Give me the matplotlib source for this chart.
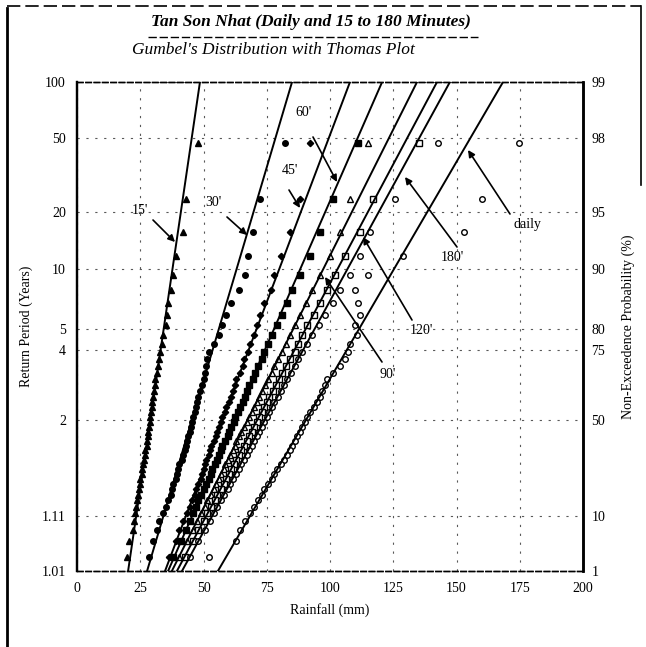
import numpy as np
import matplotlib
matplotlib.use("Agg")
import matplotlib.pyplot as plt
from matplotlib.lines import Line2D
from matplotlib.ticker import NullLocator, FixedLocator

plt.rcParams['font.family'] = ['Liberation Serif', 'DejaVu Serif']

# annual maximum rainfall (mm), sorted high to low
r15 = [47.8, 43.0, 42.0, 39.0, 38.0, 37.0, 36.0, 35.5, 35.0, 34.0, 33.5, 33.0, 32.5, 32.0, 31.5, 31.0,
       30.8, 30.5, 30.0, 29.8, 29.5, 29.2, 29.0, 28.7, 28.5, 28.2, 28.0, 27.8, 27.5, 27.0, 26.8, 26.5,
       26.0, 25.8, 25.5, 25.0, 24.8, 24.5, 24.0, 23.8, 23.5, 23.0, 22.5, 22.0, 20.5, 19.8]
r30 = [82.2, 72.3, 69.6, 67.6, 66.4, 64.0, 61.0, 59.0, 57.5, 56.0, 54.0, 52.0, 51.5, 51.0, 50.5, 50.0,
       49.5, 48.5, 48.0, 47.5, 47.0, 46.5, 46.0, 45.5, 45.0, 44.5, 44.0, 43.5, 43.0, 42.5, 42.0, 41.5,
       40.5, 40.0, 39.5, 39.0, 38.0, 37.5, 37.0, 36.0, 35.0, 34.0, 32.5, 31.5, 30.0, 28.5]
r45 = [92.0, 88.0, 84.0, 80.5, 78.0, 76.5, 74.0, 72.5, 71.0, 70.0, 68.5, 67.5, 66.0, 65.5, 64.5, 63.0,
       62.5, 61.5, 61.0, 60.0, 59.0, 58.5, 57.5, 57.0, 56.0, 55.5, 55.0, 54.0, 53.0, 52.5, 52.0, 51.0,
       50.5, 50.0, 49.5, 49.0, 48.0, 47.0, 46.5, 45.5, 44.5, 43.5, 42.0, 40.5, 39.0, 36.5]
r60 = [111.0, 101.0, 96.0, 92.0, 88.0, 85.0, 83.0, 81.0, 79.0, 77.0, 75.5, 74.0, 73.0, 71.5, 70.5, 69.5,
       68.0, 67.0, 66.5, 65.5, 64.5, 63.5, 62.5, 62.0, 61.0, 60.0, 59.5, 58.5, 57.5, 57.0, 56.0, 55.5,
       54.5, 53.5, 53.0, 52.0, 51.0, 50.0, 49.0, 48.0, 47.0, 46.0, 44.5, 43.0, 41.0, 38.0]
r90 = [115.0, 108.0, 104.0, 100.0, 96.0, 93.0, 90.5, 88.0, 86.0, 84.0, 82.5, 81.0, 79.5, 78.0, 77.0, 75.5,
       74.5, 73.0, 72.0, 71.0, 70.0, 69.0, 68.0, 67.0, 66.0, 65.0, 64.0, 63.0, 62.5, 61.5, 60.5, 59.5,
       58.5, 58.0, 57.0, 56.0, 55.0, 54.0, 53.0, 51.5, 50.5, 49.0, 47.5, 46.0, 43.5, 40.5]
r120 = [135.0, 117.0, 112.0, 106.0, 102.0, 99.0, 96.0, 93.5, 91.0, 89.0, 87.5, 86.0, 84.0, 82.5, 81.0, 80.0,
        78.5, 77.5, 76.0, 75.0, 74.0, 73.0, 72.0, 71.0, 70.0, 69.0, 68.0, 67.0, 66.0, 65.0, 64.0, 63.0,
        62.0, 61.0, 60.0, 59.0, 58.0, 57.0, 55.5, 54.5, 53.0, 51.5, 50.0, 48.0, 46.0, 42.5]
r180 = [142.7, 125.7, 116.0, 112.0, 108.0, 104.0, 101.0, 98.0, 95.5, 93.0, 91.0, 89.0, 87.5, 86.0, 84.5, 83.0,
        82.0, 80.5, 79.5, 78.0, 77.0, 76.0, 75.0, 74.0, 73.0, 72.0, 71.0, 70.0, 69.0, 68.0, 67.0, 66.0,
        65.0, 64.0, 63.0, 61.5, 60.5, 59.5, 58.0, 57.0, 55.5, 54.0, 52.5, 50.5, 48.0, 44.5]
rday = [174.7, 160.0, 153.0, 129.0, 115.0, 110.0, 111.0, 112.0, 110.0, 110.5, 108.0, 107.0, 106.0, 104.0, 101.0, 99.0,
        98.0, 97.0, 96.0, 95.0, 93.5, 92.0, 91.0, 90.0, 89.0, 88.0, 87.0, 86.0, 85.0, 84.0, 83.0, 82.0,
        80.5, 79.0, 78.0, 77.0, 75.5, 74.0, 73.0, 71.5, 70.0, 68.5, 66.5, 64.5, 63.0, 52.2]

series = [r15, r30, r45, r60, r90, r120, r180, rday]
names = ["15'", "30'", "45'", "60'", "90'", "120'", "180'", "daily"]
# fitted Gumbel lines: rainfall at T = 1.01 and T = 100
fit_low = [20.2, 27.7, 34.8, 36.0, 37.5, 39.5, 41.5, 55.7]
fit_high = [48.6, 85.0, 107.9, 120.6, 134.4, 142.3, 147.4, 168.4]

markers = ['^', 'o', 'D', 's', '^', 's', 'o', 'o']
filled = [True, True, True, True, False, False, False, False]

T_ticks = [1.01, 1.11, 2, 4, 5, 10, 20, 50, 100]
T_labels = ['1.01', '1.11', '2', '4', '5', '10', '20', '50', '100']
P_ticks = [1, 10, 50, 75, 80, 90, 95, 98, 99]
P_labels = ['1', '10', '50', '75', '80', '90', '95', '98', '99']
x_ticks = [0, 25, 50, 75, 100, 125, 150, 175, 200]


def t_fwd(T):
    T = np.clip(np.asarray(T, float), 1.000001, 1e9)
    return -np.log(-np.log(1 - 1 / T))


def t_inv(y):
    y = np.asarray(y, float)
    return 1 / (1 - np.exp(-np.exp(-y)))


def p_fwd(p):
    p = np.clip(np.asarray(p, float), 1e-6, 99.99999)
    return -np.log(-np.log(p / 100))


def p_inv(y):
    y = np.asarray(y, float)
    return 100 * np.exp(-np.exp(-y))


fig = plt.figure(figsize=(6.46, 6.47), dpi=100)
W, H = 646, 647
ax = fig.add_axes([77 / W, 1 - 571 / H, 506 / W, 489 / H])

ax.set_yscale('function', functions=(t_fwd, t_inv))
ax.set_xlim(0, 200)
ax.set_ylim(1.01, 100)

for vals, name, fl, fh, mk, fill in zip(series, names, fit_low, fit_high, markers, filled):
    n = len(vals)
    rank = np.arange(1, n + 1)
    T = (n + 1) / rank  # Weibull plotting position
    ax.plot(vals, T, linestyle='none', marker=mk, markersize=4.0 if mk != 'D' else 3.2,
            markerfacecolor='black' if fill else 'white', markeredgecolor='black',
            markeredgewidth=1.0, zorder=3)
    ax.plot([fl, fh], [1.01, 100], color='black', linewidth=1.4, zorder=4)

ax.set_xticks(x_ticks)
ax.set_yticks(T_ticks)
ax.set_yticklabels(T_labels)
ax.yaxis.set_minor_locator(NullLocator())
ax.tick_params(axis='both', length=0, labelsize=10, pad=8)
ax.grid(True, color='0.35', linestyle=(0, (2, 6)), linewidth=0.8)
ax.set_xlabel("Rainfall (mm)", fontsize=10, labelpad=6)
ax.set_ylabel("Return Period (Years)", fontsize=10, labelpad=6)

ax2 = ax.twinx()
ax2.set_yscale('function', functions=(p_fwd, p_inv))
ax2.set_ylim(100 * (1 - 1 / 1.01), 99)
ax2.yaxis.set_major_locator(FixedLocator(P_ticks))
ax2.set_yticklabels(P_labels)
ax2.yaxis.set_minor_locator(NullLocator())
ax2.tick_params(axis='y', length=0, labelsize=10, pad=6)
ax2.set_ylabel("Non-Exceedence Probability (%)", fontsize=10, labelpad=12)

for a in (ax, ax2):
    a.spines['left'].set_linewidth(1.6)
    a.spines['right'].set_linewidth(1.8)
    a.spines['top'].set_linestyle((0, (4, 2)))
    a.spines['bottom'].set_linestyle((0, (4, 2)))
    a.spines['top'].set_linewidth(1.0)
    a.spines['bottom'].set_linewidth(1.0)

# duration labels with arrows (axes-fraction positions)
def fx(px):
    return (px - 77) / 506


def fy(py):
    return (571 - py) / 489


labels = [
    ("15'", (140, 210), (153, 220), (175, 242)),
    ("30'", (213, 202), (227, 217), (247, 235)),
    ("45'", (290, 170), (289, 190), (300, 208)),
    ("60'", (303, 112), (313, 137), (337, 182)),
    ("90'", (388, 374), (382, 362), (325, 277)),
    ("120'", (421, 330), (412, 320), (363, 237)),
    ("180'", (452, 257), (457, 247), (405, 177)),
    ("daily", (528, 224), (510, 214), (468, 150)),
]
for txt, tp, tail, tip in labels:
    ax.text(fx(tp[0]), fy(tp[1]), txt, transform=ax.transAxes, ha='center', va='center',
            fontsize=10, zorder=6)
    ax.annotate('', xy=(fx(tip[0]), fy(tip[1])), xycoords='axes fraction',
                xytext=(fx(tail[0]), fy(tail[1])), textcoords='axes fraction',
                arrowprops=dict(arrowstyle='-|>', color='black', lw=1.2,
                                mutation_scale=10, shrinkA=0, shrinkB=0), zorder=6)

# titles
fig.text(311 / W, 1 - 22 / H, "Tan Son Nhat (Daily and 15 to 180 Minutes)", ha='center', va='center',
         fontsize=12.5, fontweight='bold', fontstyle='italic')
fig.add_artist(Line2D([148 / W, 478 / W], [1 - 37 / H, 1 - 37 / H], color='black', linewidth=1.0,
                      linestyle=(0, (6, 2))))
fig.text(132 / W, 1 - 50 / H, "Gumbel's Distribution with Thomas Plot", ha='left', va='center',
         fontsize=12.5, fontstyle='italic')

# outer frame
fig.add_artist(Line2D([7 / W, 7 / W], [1 - 8 / H, 0], color='black', linewidth=2.0))
fig.add_artist(Line2D([7 / W, 641 / W], [1 - 6 / H, 1 - 6 / H], color='black', linewidth=1.2,
                      linestyle=(0, (8, 3))))
fig.add_artist(Line2D([641 / W, 641 / W], [1 - 6 / H, 1 - 185 / H], color='black', linewidth=1.2))

fig.savefig("out.png", dpi=100)
